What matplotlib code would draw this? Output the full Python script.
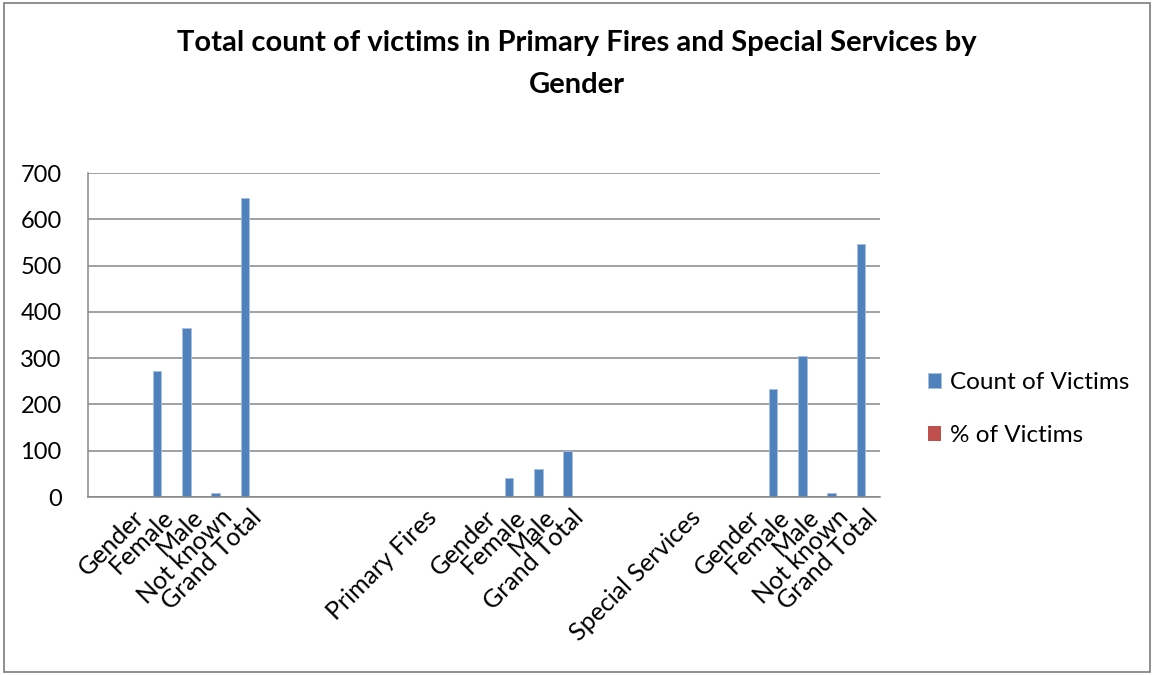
import numpy as np
import matplotlib.pyplot as plt
from matplotlib.patches import Rectangle

plt.rcParams['font.family'] = ['Lato', 'DejaVu Sans']

# row labels of the pivot table (blank rows kept as empty strings)
categories = ['', 'Gender', 'Female', 'Male', 'Not known', 'Grand Total',
              '', '', '', '', '', 'Primary Fires', '',
              'Gender', 'Female', 'Male', 'Grand Total',
              '', '', '', 'Special Services', '',
              'Gender', 'Female', 'Male', 'Not known', 'Grand Total']

count_victims = [None, None, 273, 365, 9, 647,
                 None, None, None, None, None, None, None,
                 None, 40, 60, 100,
                 None, None, None, None, None,
                 None, 233, 305, 9, 547]

pct_victims = [None, None, 0.42, 0.56, 0.01, 1.0,
               None, None, None, None, None, None, None,
               None, 0.40, 0.60, 1.0,
               None, None, None, None, None,
               None, 0.43, 0.56, 0.02, 1.0]

series_names = ['Count of Victims', '% of Victims']
colors = ['#4F81BD', '#C0504D']
yticks = [0, 100, 200, 300, 400, 500, 600, 700]

count = np.array([np.nan if v is None else v for v in count_victims], dtype=float)
pct = np.array([np.nan if v is None else v for v in pct_victims], dtype=float)
x = np.arange(len(categories))
w = 0.3

fig = plt.figure(figsize=(11.55, 6.75), dpi=100)
ax = fig.add_axes([88/1155, 1-497/675, (880-88)/1155, (497-173)/675])

ax.bar(x - w/2, count, w, color=colors[0], edgecolor='#A7BFDE', linewidth=0.6,
       label=series_names[0], zorder=2)
ax.bar(x + w/2, pct, w, color=colors[1], edgecolor='#C0504D', linewidth=0,
       label=series_names[1], zorder=2)

ax.set_xlim(-0.5, len(categories) - 0.5)
ax.set_ylim(0, 700)
ax.set_yticks(yticks)
ax.set_yticklabels([str(t) for t in yticks], fontsize=17)
ax.yaxis.grid(True, color='#868686', linewidth=1.1, zorder=0)
ax.set_axisbelow(True)
ax.set_xticks(x)
ax.set_xticklabels(categories, rotation=45, ha='right', va='top',
                   rotation_mode='anchor', fontsize=18)
ax.tick_params(axis='both', length=0)
ax.tick_params(axis='y', pad=19)
ax.tick_params(axis='x', pad=6)

for side in ['top', 'right']:
    ax.spines[side].set_visible(False)
for side in ['left', 'bottom']:
    ax.spines[side].set_color('#868686')
    ax.spines[side].set_linewidth(1.1)

fig.text(577/1155, 1-64/675,
         'Total count of victims in Primary Fires and Special Services by\nGender',
         ha='center', va='center', fontsize=21, fontweight='bold',
         linespacing=1.8)

leg = ax.legend(loc='center left', bbox_to_anchor=(906/1155, 1-409/675),
                bbox_transform=fig.transFigure, frameon=False, fontsize=17.5,
                handlelength=0.55, handleheight=0.55, handletextpad=0.35,
                labelspacing=1.3)

# chart border
fig.patches.append(Rectangle((4/1155, 3/675), 1146/1155, 669/675,
                             transform=fig.transFigure, fill=False,
                             edgecolor='#868686', linewidth=1.3))

fig.savefig('out.png', dpi=100)
